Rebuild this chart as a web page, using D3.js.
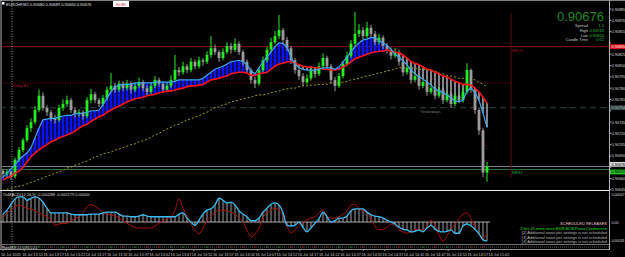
<!DOCTYPE html>
<html><head><meta charset="utf-8">
<script src="https://cdn.jsdelivr.net/npm/d3@7"></script>
<style>html,body{margin:0;padding:0;background:#000;overflow:hidden}svg{display:block}text{font-family:"Liberation Sans",Arial,sans-serif}</style>
</head><body><svg id="c" width="625" height="257"></svg>
<script>
// ---- DATA (prices in 1e-5 units, e.g. 90676 = 0.90676) ----
const opens=[90670,90666,90669,90663,90685,90698,90711,90727,90735,90751,
90770,90754,90748,90740,90738,90754,90759,90764,90751,90746,
90748,90743,90764,90772,90764,90759,90767,90778,90783,90778,
90786,90780,90786,90778,90783,90788,90780,90775,90783,90791,
90786,90778,90783,90791,90804,90801,90809,90804,90815,90809,
90817,90815,90824,90833,90828,90820,90828,90836,90831,90839,
90828,90815,90804,90791,90786,90804,90817,90831,90841,90849,
90857,90844,90833,90817,90804,90796,90788,90793,90804,90799,
90809,90820,90809,90791,90783,90796,90812,90823,90839,90852,
90857,90849,90860,90852,90841,90847,90836,90831,90823,90828,
90815,90801,90807,90791,90796,90783,90788,90775,90780,90770,
90778,90764,90772,90759,90770,90764,90775,90804,90778,90751,
90724,90668];
const highs=[90673,90672,90671,90688,90702,90714,90731,90740,90756,90778,
90774,90757,90751,90745,90758,90765,90770,90767,90754,90752,
90751,90768,90779,90775,90767,90771,90782,90800,90787,90790,
90789,90791,90789,90787,90794,90791,90784,90787,90796,90794,
90789,90788,90797,90824,90808,90815,90812,90820,90818,90822,
90820,90829,90849,90838,90831,90833,90841,90840,90846,90842,
90831,90818,90807,90795,90808,90822,90835,90847,90856,90877,
90860,90848,90836,90820,90808,90800,90798,90809,90808,90814,
90826,90823,90812,90795,90800,90816,90828,90844,90881,90865,
90861,90868,90864,90856,90852,90850,90840,90834,90833,90831,
90818,90812,90810,90801,90799,90793,90791,90785,90783,90782,
90781,90776,90775,90774,90773,90780,90813,90806,90780,90754,
90727,90682];
const lows=[90661,90662,90658,90660,90682,90695,90708,90722,90732,90748,
90750,90743,90736,90733,90735,90750,90755,90747,90741,90742,
90738,90740,90760,90760,90755,90756,90764,90775,90774,90775,
90776,90777,90773,90775,90780,90776,90770,90772,90780,90782,
90774,90775,90780,90788,90796,90798,90800,90801,90805,90806,
90810,90812,90820,90824,90815,90817,90825,90826,90828,90824,
90810,90799,90786,90780,90783,90801,90814,90828,90838,90845,
90840,90829,90812,90799,90791,90783,90785,90790,90794,90796,
90806,90805,90786,90776,90780,90793,90809,90820,90836,90848,
90845,90846,90848,90837,90838,90832,90826,90818,90820,90810,
90796,90798,90786,90788,90778,90780,90770,90772,90765,90767,
90759,90761,90754,90756,90760,90761,90772,90774,90746,90718,
90662,90656];
const closes=[90666,90669,90663,90685,90698,90711,90727,90735,90751,90770,
90754,90748,90740,90738,90754,90759,90764,90751,90746,90748,
90743,90764,90772,90764,90759,90767,90778,90783,90778,90786,
90780,90786,90778,90783,90788,90780,90775,90783,90791,90786,
90778,90783,90791,90804,90801,90809,90804,90815,90809,90817,
90815,90824,90833,90828,90820,90828,90836,90831,90839,90828,
90815,90804,90791,90786,90804,90817,90831,90841,90849,90857,
90844,90833,90817,90804,90796,90788,90793,90804,90799,90809,
90820,90809,90791,90783,90796,90812,90823,90839,90852,90857,
90849,90860,90852,90841,90847,90836,90831,90823,90828,90815,
90801,90807,90791,90796,90783,90788,90775,90780,90770,90778,
90764,90772,90759,90770,90764,90775,90804,90778,90751,90724,
90668,90676];
const fastMA=[90662,90667,90673,90678,90685,90690,90694,90701,90714,90727,
90738,90739,90740,90740,90742,90743,90744,90744,90746,90746,
90747,90748,90750,90750,90751,90758,90767,90775,90782,90784,
90785,90785,90785,90787,90787,90787,90787,90787,90788,90788,
90788,90788,90788,90789,90791,90791,90791,90791,90791,90791,
90793,90797,90801,90805,90807,90809,90812,90815,90816,90817,
90815,90811,90803,90799,90807,90815,90821,90828,90835,90840,
90839,90835,90821,90812,90807,90805,90804,90804,90804,90805,
90807,90807,90807,90805,90808,90815,90821,90828,90835,90840,
90844,90845,90847,90847,90843,90840,90837,90831,90825,90821,
90816,90811,90804,90799,90795,90792,90788,90784,90779,90776,
90774,90771,90767,90763,90762,90764,90776,90780,90774,90764,
90747,90728];
const slowMA=[90658,90661,90663,90667,90670,90675,90682,90689,90694,90698,
90702,90705,90709,90711,90714,90716,90718,90720,90723,90727,
90730,90732,90736,90739,90742,90744,90748,90751,90754,90756,
90759,90762,90764,90766,90767,90768,90770,90771,90772,90774,
90775,90776,90776,90778,90779,90780,90782,90783,90783,90784,
90785,90788,90791,90792,90793,90795,90796,90799,90800,90801,
90801,90800,90797,90797,90799,90800,90801,90805,90809,90812,
90813,90815,90815,90813,90811,90809,90808,90808,90807,90807,
90805,90805,90804,90804,90805,90808,90811,90815,90819,90821,
90823,90825,90827,90828,90829,90829,90831,90829,90828,90827,
90824,90820,90815,90813,90811,90808,90805,90804,90801,90799,
90796,90795,90792,90789,90787,90785,90785,90784,90780,90775,
90768,90760];
const longMA=[90644,90646,90647,90649,90650,90651,90653,90655,90657,90659,
90661,90663,90665,90667,90669,90671,90674,90675,90678,90679,
90682,90683,90686,90689,90690,90693,90694,90695,90698,90699,
90701,90703,90705,90706,90709,90710,90712,90715,90718,90720,
90723,90726,90728,90731,90732,90735,90738,90739,90742,90743,
90746,90748,90751,90754,90755,90758,90759,90762,90763,90764,
90766,90767,90768,90770,90771,90771,90772,90774,90775,90776,
90778,90779,90780,90780,90782,90783,90783,90784,90784,90785,
90785,90785,90787,90787,90787,90788,90789,90791,90792,90793,
90795,90796,90797,90799,90800,90801,90803,90804,90805,90807,
90807,90807,90807,90807,90805,90805,90804,90804,90803,90800,
90799,90797,90796,90795,90793,90793,90792,90792,90791,90788,
90785,90782];
const bandStart=115;
const lowerBand=[90767,90764,90760,90747,90731,90714,90698];
// OsMA / MACD sub-window (1e-5 units)
const macd=[12,18,27,35,38,38,33,36,38,36,
30,21,14,14,14,14,14,12,11,11,
11,11,12,12,12,14,15,15,15,12,
9,9,8,8,9,11,9,8,8,8,
8,8,8,8,12,14,6,0,-5,3,
12,18,20,26,36,33,29,30,26,17,
12,8,2,2,6,15,21,27,29,26,
14,-5,-6,-5,0,-8,-15,-9,-2,5,
15,8,0,2,6,6,9,17,20,20,
20,15,11,9,8,6,3,0,-3,-8,
-11,-12,-15,-14,-12,-15,-9,-5,-11,-14,
-15,-14,-12,-17,-17,-6,-3,-6,-11,-18,
-27,-29];
const signalLine=[6,14,18,23,26,24,21,20,17,14,
11,8,3,-5,-3,-2,-2,2,5,8,
14,23,26,24,20,15,12,11,9,6,
2,-2,-5,-8,-9,-9,-9,-9,-6,-2,
2,5,8,18,35,21,9,-3,-12,-18,
-9,2,9,14,18,18,17,15,12,6,
0,-12,-23,-18,-9,6,14,18,21,18,
9,-6,-17,-12,-5,0,3,6,8,14,
18,8,6,6,8,12,17,26,27,20,
17,14,5,-6,-12,-11,-8,-3,-5,-12,
-15,-17,-15,-11,-11,-12,-6,3,-5,-20,
-29,-21,-11,-3,5,12,14,5,-9,-18,
-24,-18];
const priceTicks=[90885,90870,90855,90840,90825,90810,90795,90780,90765,90750,90735,90720,90705,90690,90675,90660,90645];
const indTicks=[47,0,-33];
const timeTickBars=[0,5.3,10.6,15.9,21.2,26.5,31.8,37.1,42.4,47.7,53,58.3,63.6,68.9,74.2,79.5,84.8,90.1,95.4,100.7,106,111.3,116.6,121.9];
const timeLabels=["16 Jul 2020","16 Jul 13:12","16 Jul 13:17","16 Jul 13:22","16 Jul 13:27","16 Jul 13:32","16 Jul 13:37","16 Jul 13:42","16 Jul 13:47","16 Jul 13:52","16 Jul 13:57","16 Jul 14:02","16 Jul 14:07","16 Jul 14:12","16 Jul 14:17","16 Jul 14:22","16 Jul 14:27","16 Jul 14:32","16 Jul 14:37","16 Jul 14:42","16 Jul 14:47","16 Jul 14:52","16 Jul 14:57","16 Jul 15:02"];
const levelR = 90835;      // solid dark red level
const dailyS1 = 90787;     // dotted
const yesterdays = 90754;  // dashed
const bidPrice = 90676;
const greenLevel = 90672;
const markerBar = 127;
const infoLabels=["Spread","High","Low","Candle Time"];
const infoValues=["1.5","0.90918","0.90654","0:52"];
const newsLines=["SCHEDULED RELEASES","2 hrs 41 mins since EUR ECB Press Conference","[2]  Additional news per settings is not scheduled","[3]  Additional news per settings is not scheduled","[4]  Additional news per settings is not scheduled"];

// ---- DRAW ----
const svg=d3.select("#c");
const N=closes.length;
const x=d3.scaleLinear().domain([0,N-1]).range([3,487]);
const y=d3.scaleLinear().domain([90645,90885]).range([189.9,9.0]);
const yi=d3.scaleLinear().domain([-33,47]).range([243.8,191]);
const fmt=v=>(v/1e5).toFixed(5);
const idx=d3.range(N);

svg.append("rect").attr("width",625).attr("height",257).attr("fill","#000");
const defs=svg.append("defs");
defs.append("clipPath").attr("id","mainclip").append("rect").attr("x",2).attr("y",1).attr("width",607).attr("height",189);
const main=svg.append("g").attr("clip-path","url(#mainclip)");

// horizontal levels
main.append("line").attr("x1",0).attr("x2",609).attr("y1",y(levelR)).attr("y2",y(levelR)).attr("stroke","#8b1010").attr("stroke-width",1);
main.append("line").attr("x1",0).attr("x2",x(markerBar)).attr("y1",y(dailyS1)).attr("y2",y(dailyS1)).attr("stroke","#9a1515").attr("stroke-width",0.8).attr("stroke-dasharray","1,1.5");
main.append("line").attr("x1",0).attr("x2",609).attr("y1",y(yesterdays)).attr("y2",y(yesterdays)).attr("stroke","#2c4640").attr("stroke-width",1).attr("stroke-dasharray","6,4");
main.append("line").attr("x1",0).attr("x2",609).attr("y1",y(bidPrice)).attr("y2",y(bidPrice)).attr("stroke","#7c8690").attr("stroke-width",1);
main.append("line").attr("x1",0).attr("x2",609).attr("y1",y(greenLevel)).attr("y2",y(greenLevel)).attr("stroke","#2c7a2c").attr("stroke-width",1);
main.append("line").attr("x1",x(markerBar)).attr("x2",x(markerBar)).attr("y1",13).attr("y2",y(90662)).attr("stroke","#5e0a0a").attr("stroke-width",1);

// MA ribbon fill
main.append("g").selectAll("rect").data(idx).join("rect")
 .attr("x",i=>x(i)-(fastMA[i]>=slowMA[i]?1.4:0.7))
 .attr("width",i=>fastMA[i]>=slowMA[i]?2.8:1.4)
 .attr("y",i=>y(Math.max(fastMA[i],slowMA[i])))
 .attr("height",i=>Math.abs(y(fastMA[i])-y(slowMA[i])))
 .attr("fill",i=>fastMA[i]>=slowMA[i]?"#0a14f0":"#b4bcc8");

// long MA dashed
main.append("path").datum(idx).attr("fill","none").attr("stroke","#a0a010").attr("stroke-width",1).attr("stroke-dasharray","2,2")
 .attr("d",d3.line().x(i=>x(i)).y(i=>y(longMA[i])));
// lower band dotted
main.append("path").datum(lowerBand).attr("fill","none").attr("stroke","#a01010").attr("stroke-width",1).attr("stroke-dasharray","1,2")
 .attr("d",d3.line().x((d,k)=>x(bandStart+k)).y(d=>y(d)));

// candles
const cg=main.append("g");
const bull=i=>closes[i]>=opens[i];
cg.selectAll("line").data(idx).join("line")
 .attr("x1",i=>x(i)).attr("x2",i=>x(i)).attr("y1",i=>y(highs[i])).attr("y2",i=>y(lows[i]))
 .attr("stroke",i=>bull(i)?"#22ee22":"#9c9c9c").attr("stroke-width",1);
cg.selectAll("rect").data(idx).join("rect")
 .attr("x",i=>x(i)-1.4).attr("width",2.8)
 .attr("y",i=>y(Math.max(opens[i],closes[i])))
 .attr("height",i=>Math.max(1,Math.abs(y(opens[i])-y(closes[i]))))
 .attr("fill",i=>bull(i)?"#22ee22":"#9c9c9c");

// MA lines
main.append("path").datum(idx).attr("fill","none").attr("stroke","#ff1414").attr("stroke-width",1.6)
 .attr("d",d3.line().x(i=>x(i)).y(i=>y(slowMA[i])));
main.append("path").datum(idx).attr("fill","none").attr("stroke","#3aa8ee").attr("stroke-width",1.2)
 .attr("d",d3.line().x(i=>x(i)).y(i=>y(fastMA[i])));

// texts in main
const T=(g,t,xx,yy,c,fs,anchor)=>g.append("text").attr("x",xx).attr("y",yy).attr("fill",c).attr("font-size",fs).attr("text-anchor",anchor||"start").text(t);
T(svg,"Daily S1",13,87,"#c02020",4.2);
T(svg,"Yesterdays",420,113,"#707a80",4.2);
T(svg,"MK70",512,52,"#a01818",4.2);
T(svg,"BRS1",512,174,"#30a030",4.2);
svg.append("rect").attr("x",2).attr("y",2).attr("width",2.5).attr("height",2.5).attr("fill","#fff");
T(svg,"EURCHF,M1  0.90680 0.90689 0.90660 0.90676",6,5.5,"#e0e0e0",4);
svg.append("rect").attr("x",113).attr("y",1).attr("width",16).attr("height",6).attr("fill","#fff");
T(svg,"HOBI",121,5.5,"#e02020",4,"middle");

// info panel
T(svg,fmt(bidPrice),604,21,"#1f8a1f",13,"end");
infoLabels.forEach((l,k)=>{T(svg,l,588,27+k*4.8,"#c8c8c8",4,"end");T(svg,infoValues[k],604,27+k*4.8,"#20c040",4,"end");});

// left dotted vertical
svg.append("line").attr("x1",12).attr("x2",12).attr("y1",1).attr("y2",244).attr("stroke","#9a9a9a").attr("stroke-width",1).attr("stroke-dasharray","1,1.5");

// frame
svg.append("line").attr("x1",0).attr("x2",625).attr("y1",0.5).attr("y2",0.5).attr("stroke","#808080");
svg.append("line").attr("x1",1).attr("x2",1).attr("y1",0).attr("y2",250).attr("stroke","#b0b0b0");
svg.append("line").attr("x1",609.5).attr("x2",609.5).attr("y1",0).attr("y2",250).attr("stroke","#b0b0b0");
svg.append("line").attr("x1",0).attr("x2",609).attr("y1",190.5).attr("y2",190.5).attr("stroke","#e8e8e8");

// price axis
const pa=svg.append("g");
const boxed=[levelR,yesterdays,bidPrice,greenLevel];
priceTicks.forEach(p=>{pa.append("line").attr("x1",609).attr("x2",611).attr("y1",y(p)).attr("y2",y(p)).attr("stroke","#b0b0b0");
 if(boxed.some(b=>Math.abs(y(b)-y(p))<5))return;
 T(pa,fmt(p),611.5,y(p)+1.5,"#d8d8d8",3.8);});
const boxLab=(p,yy,bg,fg)=>{pa.append("rect").attr("x",610).attr("y",yy-2.4).attr("width",15).attr("height",4.8).attr("fill",bg);T(pa,fmt(p),611.5,yy+1.4,fg,3.8);};
boxLab(levelR,y(levelR),"#e01010","#fff");
boxLab(yesterdays,y(yesterdays),"#3a4a48","#9aa");
boxLab(bidPrice,y(bidPrice)-2.2,"#d8d8d8","#000");
boxLab(greenLevel,y(greenLevel)+2.4,"#22c022","#000");

// indicator window
const ig=svg.append("g");
ig.append("line").attr("x1",0).attr("x2",x(N-1)+3).attr("y1",yi(0)).attr("y2",yi(0)).attr("stroke","#a8a8a8");
ig.selectAll("line.h").data(idx).join("line").attr("class","h")
 .attr("x1",i=>x(i)).attr("x2",i=>x(i)).attr("y1",yi(0)).attr("y2",i=>yi(macd[i])).attr("stroke","#c8c8c8").attr("stroke-width",0.8);
ig.append("path").datum(idx).attr("fill","none").attr("stroke","#a80c0c").attr("stroke-width",1)
 .attr("d",d3.line().curve(d3.curveMonotoneX).x(i=>x(i)).y(i=>yi(signalLine[i])));
ig.append("path").datum(idx).attr("fill","none").attr("stroke","#38bcf4").attr("stroke-width",1.3)
 .attr("d",d3.line().curve(d3.curveMonotoneX).x(i=>x(i)).y(i=>yi(macd[i])));
T(ig,"OsMACD(12,26,9) -0.000288 -0.000179 0.00000",3,196,"#d8d8d8",4);
T(ig,"0.00047",611.5,195.5,"#d8d8d8",3.6);
T(ig,"0.00",611.5,yi(0)+1.5,"#d8d8d8",3.6);
T(ig,"-0.00033",610.5,241.5,"#d8d8d8",3.5);
newsLines.forEach((t,k)=>T(ig,t,607,225+k*4.5,k===0?"#f0c8d0":(k===1?"#20e020":"#b8b8b8"),4,"end"));

// bottom strip
svg.append("line").attr("x1",0).attr("x2",609).attr("y1",244.5).attr("y2",244.5).attr("stroke","#707070");
svg.append("line").attr("x1",0).attr("x2",609).attr("y1",249.5).attr("y2",249.5).attr("stroke","#909090");
svg.append("line").attr("x1",0).attr("x2",609).attr("y1",247).attr("y2",247).attr("stroke","#505050").attr("stroke-dasharray","1,1");
svg.append("g").selectAll("rect").data(idx.filter(i=>i%3===0)).join("rect").attr("x",i=>x(i)-1).attr("width",2).attr("y",246.3).attr("height",1.3)
 .attr("fill",i=>bull(i)?"#1d6a1d":"#7a1a1a");
T(svg,"Ratio(M1) 1.5  0.3  0.1  2.0",2,248.6,"#e0e0e0",3.2);

// time axis
timeTickBars.forEach((b,k)=>{svg.append("line").attr("x1",x(b)).attr("x2",x(b)).attr("y1",249.5).attr("y2",251).attr("stroke","#909090");
 T(svg,timeLabels[k],Math.max(1,x(b)-2),255.5,"#c8c8c8",3.8);});
</script></body></html>
